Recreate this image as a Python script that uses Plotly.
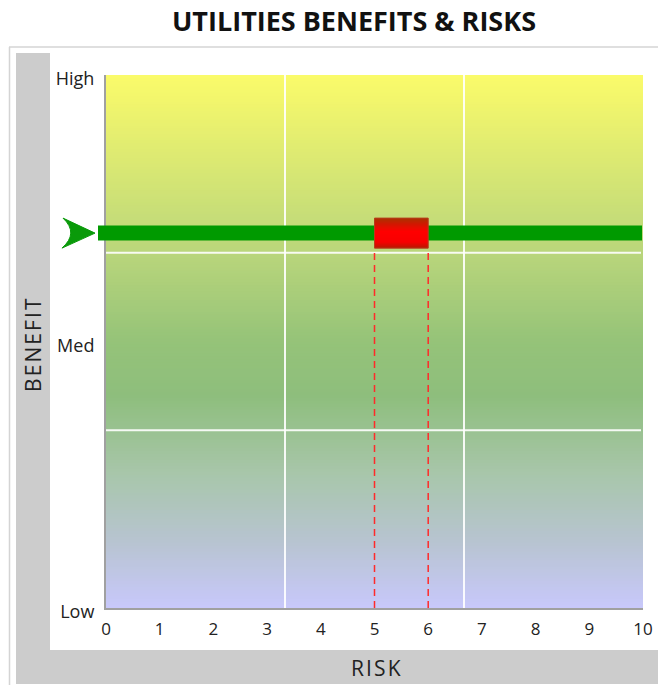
import plotly.graph_objects as go

# ---- data ----
risk_ticks = [0, 1, 2, 3, 4, 5, 6, 7, 8, 9, 10]
benefit_levels = [0, 1.5, 3]
benefit_labels = ["Low", "Med", "High"]
benefit_value = 2.11
risk_range = [5, 6]
grid_x = [10 / 3, 20 / 3]
grid_y = [1, 2]

# ---- layout geometry (pixels) ----
WID, HEI = 658, 685
L, R, T, B = 106, 643, 75, 608
PW, PH = R - L, B - T


def px(p):
    return (p - L) / PW


def py(p):
    return (B - p) / PH


YUNIT = PH / 3.0  # pixels per benefit unit


def hexrgb(h):
    h = h.lstrip("#")
    return tuple(int(h[i:i + 2], 16) for i in (0, 2, 4))


def interp(stops, t):
    for (t0, c0), (t1, c1) in zip(stops, stops[1:]):
        if t0 <= t <= t1:
            f = (t - t0) / (t1 - t0) if t1 > t0 else 0
            a, b = hexrgb(c0), hexrgb(c1)
            return "rgb(%d,%d,%d)" % tuple(round(a[i] + (b[i] - a[i]) * f) for i in range(3))
    return stops[-1][1]


shapes = []

# frame
shapes.append(dict(type="line", xref="paper", yref="paper", x0=px(9), x1=px(WID), y0=py(47), y1=py(47),
                   line=dict(color="#d4d4d4", width=1.5), layer="below"))
shapes.append(dict(type="line", xref="paper", yref="paper", x0=px(9.5), x1=px(9.5), y0=py(47), y1=py(HEI),
                   line=dict(color="#d4d4d4", width=1.5), layer="below"))
shapes.append(dict(type="rect", xref="paper", yref="paper", x0=px(16), x1=px(50), y0=py(53), y1=py(684),
                   fillcolor="#cccccc", line=dict(width=0), layer="below"))
shapes.append(dict(type="rect", xref="paper", yref="paper", x0=px(16), x1=px(WID), y0=py(650), y1=py(684),
                   fillcolor="#cccccc", line=dict(width=0), layer="below"))

# background gradient (top -> bottom)
bg_stops = [(0.0, "#fbfb6a"), (0.33, "#bad67b"), (0.5, "#95c379"), (0.6, "#8ebe7c"),
            (0.75, "#a8c6ab"), (0.88, "#b8c4d2"), (1.0, "#c8c8fb")]
NB = 180
for i in range(NB):
    t = (i + 0.5) / NB
    shapes.append(dict(type="rect", xref="paper", yref="paper", x0=0, x1=1,
                       y0=1 - i / NB, y1=1 - (i + 1) / NB - 0.002,
                       fillcolor=interp(bg_stops, t), line=dict(width=0), layer="below"))

# gridlines
for gx in grid_x:
    shapes.append(dict(type="line", xref="x", yref="paper", x0=gx, x1=gx, y0=0, y1=1,
                       line=dict(color="rgba(255,255,255,0.9)", width=2), layer="below"))
for gy in grid_y:
    shapes.append(dict(type="line", xref="paper", yref="y", x0=0, x1=px(641), y0=gy, y1=gy,
                       line=dict(color="rgba(255,255,255,0.9)", width=2), layer="below"))

# dashed red lines
half_h = 15 / YUNIT
for rx in risk_range:
    shapes.append(dict(type="line", xref="x", yref="y", x0=rx, x1=rx, y0=0, y1=benefit_value - half_h,
                       line=dict(color="#ff2a2a", width=1.5, dash="7px,5px"), layer="above"))

# green benefit line
shapes.append(dict(type="line", xref="paper", yref="y", x0=px(98), x1=px(642), y0=benefit_value, y1=benefit_value,
                   line=dict(color="#009a00", width=15), layer="above"))

# arrow marker
dy = 15 / YUNIT
path = "M %f,%f L %f,%f L %f,%f Q %f,%f %f,%f Z" % (
    px(63), benefit_value + dy,
    px(95), benefit_value,
    px(62), benefit_value - dy,
    px(79), benefit_value,
    px(63), benefit_value + dy,
)
shapes.append(dict(type="path", xref="paper", yref="y", path=path,
                   fillcolor="#0a9a0a", line=dict(color="#0a9a0a", width=1), layer="above"))

# red risk box with vertical gradient
box_stops = [(0.0, "#a83400"), (0.2, "#d01800"), (0.45, "#ff0000"), (0.8, "#f80000"), (1.0, "#b81800")]
NR = 30
top = benefit_value + half_h
for i in range(NR):
    t = (i + 0.5) / NR
    shapes.append(dict(type="rect", xref="x", yref="y", x0=risk_range[0], x1=risk_range[1],
                       y0=top - 2 * half_h * i / NR, y1=top - 2 * half_h * (i + 1) / NR - 0.001,
                       fillcolor=interp(box_stops, t), line=dict(width=0), layer="above"))
shapes.append(dict(type="rect", xref="x", yref="y", x0=risk_range[0], x1=risk_range[1],
                   y0=benefit_value - half_h, y1=benefit_value + half_h,
                   fillcolor="rgba(0,0,0,0)", line=dict(color="#b83c1c", width=1), layer="above"))

fig = go.Figure()
fig.add_trace(go.Scatter(x=[0, 10], y=[0, 3], mode="markers", marker=dict(opacity=0),
                         hoverinfo="skip", showlegend=False))

HS = "\u200a"
fig.update_layout(
    width=WID, height=HEI, autosize=False,
    margin=dict(l=L, r=WID - R, t=T, b=HEI - B, autoexpand=False),
    paper_bgcolor="white", plot_bgcolor="white",
    font=dict(family="Open Sans", color="#222222"),
    title=dict(text="<b>UTILITIES BENEFITS &amp; RISKS</b>", x=px(354), xref="paper", xanchor="center",
               y=1 - 22 / HEI, yref="container", yanchor="middle",
               font=dict(family="Open Sans", size=27, color="#111111")),
    xaxis=dict(range=[0, 10], tickvals=risk_ticks, ticktext=[str(v) for v in risk_ticks],
               showgrid=False, zeroline=False, showline=True, linecolor="#a0a0a0", linewidth=2,
               ticks="outside", ticklen=5, tickcolor="rgba(0,0,0,0)", automargin=False,
               tickfont=dict(size=17, color="#222222"), fixedrange=True),
    yaxis=dict(range=[0, 3], tickvals=benefit_levels, ticktext=benefit_labels,
               showgrid=False, zeroline=False, showline=True, linecolor="#a0a0a0", linewidth=2,
               ticks="outside", ticklen=6, tickcolor="rgba(0,0,0,0)", automargin=False,
               ticklabelshift=4,
               tickfont=dict(size=18, color="#222222"), fixedrange=True),
    shapes=shapes,
    annotations=[
        dict(text=HS.join("BENEFIT"), xref="paper", yref="paper", x=px(33), y=py(345),
             xanchor="center", yanchor="middle", textangle=-90, showarrow=False,
             font=dict(family="Open Sans", size=21, color="#222222")),
        dict(text=HS.join("RISK"), xref="paper", yref="paper", x=px(376), y=py(668),
             xanchor="center", yanchor="middle", showarrow=False,
             font=dict(family="Open Sans", size=21, color="#222222")),
    ],
    showlegend=False,
)

fig.write_html(
    "out.html",
    config={"displayModeBar": False, "responsive": False},
    post_script="document.body.style.margin='0';document.body.style.padding='0';",
)
